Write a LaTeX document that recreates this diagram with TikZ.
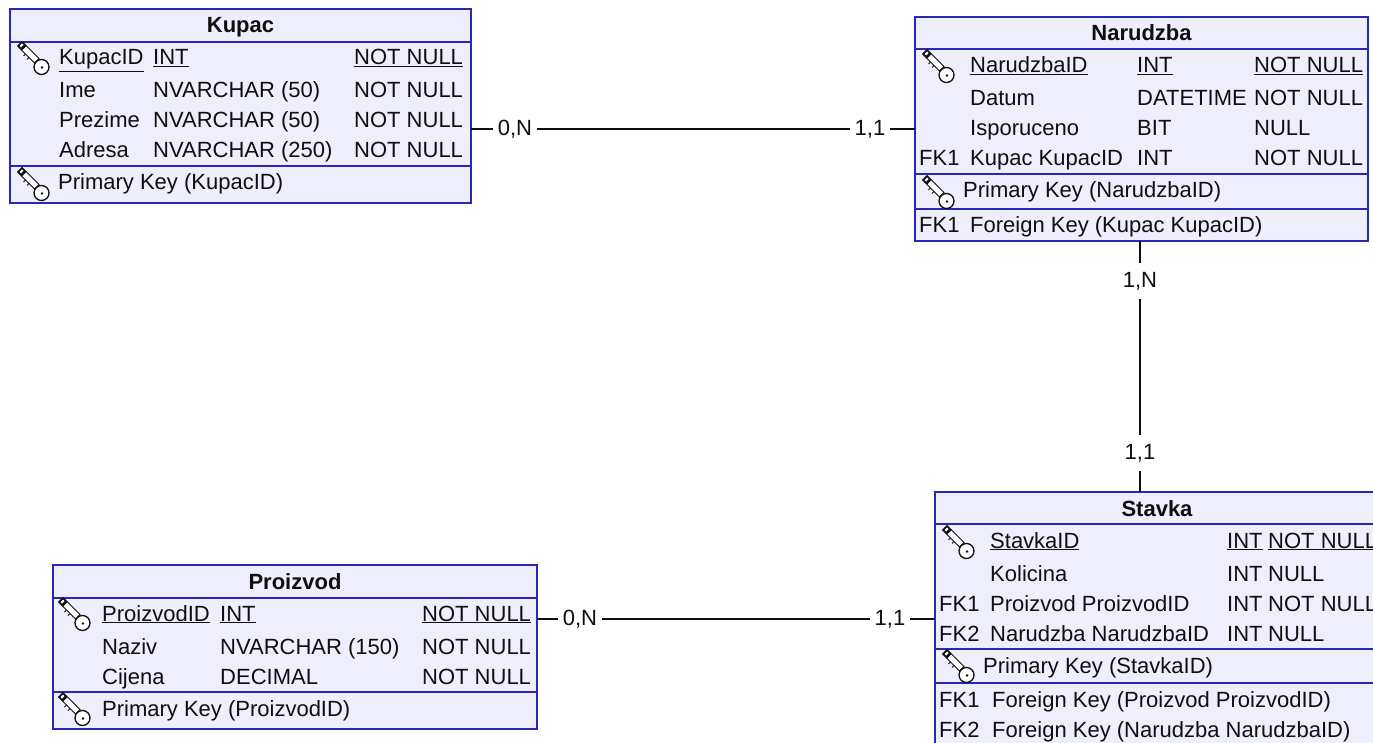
\documentclass[tikz,border=0pt]{standalone}
\usepackage{fontspec}
\setmainfont{Liberation Sans}
\definecolor{tblborder}{RGB}{40,40,180}
\definecolor{tblfill}{RGB}{238,238,252}
\definecolor{ink}{RGB}{15,15,15}
\tikzset{
  tbl/.style={draw=tblborder, line width=1.6pt, fill=tblfill, rectangle, inner sep=0pt, outer sep=0pt, anchor=north west},
  txt/.style={anchor=base west, inner sep=0pt, text=ink, font=\fontsize{22}{26}\selectfont},
  ttl/.style={anchor=base, inner sep=0pt, text=ink, font=\fontsize{22}{26}\selectfont\bfseries},
  rowsep/.style={draw=tblborder, line width=1.6pt},
  conn/.style={draw=ink, line width=1.5pt},
  lblh/.style={fill=white, inner xsep=5pt, inner ysep=3pt, text=ink, font=\fontsize{22}{26}\selectfont},
  lblv/.style={fill=white, inner xsep=3pt, inner ysep=9pt, text=ink, font=\fontsize{22}{26}\selectfont},
  keyicon/.pic={
    \draw[ink, line width=1pt, fill=white] (0.5,5) -- (5,0.5) -- (22,17.5) -- (17.5,22) -- cycle;
    \fill[ink] (0.5,5) -- (5,0.5) -- (9.5,5) -- (5,9.5) -- cycle;
    \fill[white] (2.5,5) -- (5,2.5) -- (6.5,4) -- (4,6.5) -- cycle;
    \draw[ink, line width=1pt] (8.5,13) -- (6.5,15) (12,16.5) -- (10,18.5);
    \draw[ink, line width=1.3pt, fill=white] (24.5,26) circle [radius=7.5pt];
    \fill[ink] (25,26.5) circle [radius=1.4pt];
  }
}
\begin{document}
\begin{tikzpicture}[x=1pt,y=-1pt]
\clip (0,0) rectangle (1373,743);
\fill[white] (0,0) rectangle (1373,743);

% ---------- Kupac ----------
\node[tbl, minimum width=461pt, minimum height=194pt] (kupac) at (10,9) {};
\draw[rowsep] (10,42) -- (471,42);
\draw[rowsep] (10,166) -- (471,166);
\node[ttl] (kupacT) at (240.5,33) {Kupac};
\pic at (17,41) {keyicon};
\node[txt] (k1a) at (59,65) {\underline{KupacID}};
\node[txt] (k1b) at (153,65) {\underline{INT}};
\node[txt] (k1c) at (354,65) {\underline{NOT NULL}};
\node[txt] (k2a) at (59,98) {Ime};
\node[txt] (k2b) at (153,98) {NVARCHAR (50)};
\node[txt] (k2c) at (354,98) {NOT NULL};
\node[txt] (k3a) at (59,128) {Prezime};
\node[txt] (k3b) at (153,128) {NVARCHAR (50)};
\node[txt] (k3c) at (354,128) {NOT NULL};
\node[txt] (k4a) at (59,158) {Adresa};
\node[txt] (k4b) at (153,158) {NVARCHAR (250)};
\node[txt] (k4c) at (354,158) {NOT NULL};
\pic at (17,167) {keyicon};
\node[txt] (k5) at (58,190) {Primary Key (KupacID)};

% ---------- Narudzba ----------
\node[tbl, minimum width=453pt, minimum height=224pt] (narudzba) at (915,17) {};
\draw[rowsep] (915,49) -- (1368,49);
\draw[rowsep] (915,174) -- (1368,174);
\draw[rowsep] (915,209) -- (1368,209);
\node[ttl] (narudzbaT) at (1141.5,41) {Narudzba};
\pic at (922,49) {keyicon};
\node[txt] (n1a) at (970,73) {\underline{NarudzbaID}};
\node[txt] (n1b) at (1137,73) {\underline{INT}};
\node[txt] (n1c) at (1254,73) {\underline{NOT NULL}};
\node[txt] (n2a) at (970,106) {Datum};
\node[txt] (n2b) at (1137,106) {DATETIME};
\node[txt] (n2c) at (1254,106) {NOT NULL};
\node[txt] (n3a) at (970,136) {Isporuceno};
\node[txt] (n3b) at (1137,136) {BIT};
\node[txt] (n3c) at (1254,136) {NULL};
\node[txt] (n4f) at (919,166) {FK1};
\node[txt] (n4a) at (970,166) {Kupac KupacID};
\node[txt] (n4b) at (1137,166) {INT};
\node[txt] (n4c) at (1254,166) {NOT NULL};
\pic at (922,175) {keyicon};
\node[txt] (n5) at (963,198) {Primary Key (NarudzbaID)};
\node[txt] (n6f) at (919,233) {FK1};
\node[txt] (n6a) at (970,233) {Foreign Key (Kupac KupacID)};

% ---------- Stavka ----------
\node[tbl, minimum width=444pt, minimum height=262pt] (stavka) at (935,492) {};
\draw[rowsep] (935,524) -- (1379,524);
\draw[rowsep] (935,649) -- (1379,649);
\draw[rowsep] (935,683) -- (1379,683);
\node[ttl] (stavkaT) at (1157,516) {Stavka};
\pic at (942,525) {keyicon};
\node[txt] (s1a) at (990,548) {\underline{StavkaID}};
\node[txt] (s1b) at (1227,548) {\underline{INT}};
\node[txt] (s1c) at (1268,548) {\underline{NOT NULL}};
\node[txt] (s2a) at (990,581) {Kolicina};
\node[txt] (s2b) at (1227,581) {INT};
\node[txt] (s2c) at (1268,581) {NULL};
\node[txt] (s3f) at (939,611) {FK1};
\node[txt] (s3a) at (990,611) {Proizvod ProizvodID};
\node[txt] (s3b) at (1227,611) {INT};
\node[txt] (s3c) at (1268,611) {NOT NULL};
\node[txt] (s4f) at (939,641) {FK2};
\node[txt] (s4a) at (990,641) {Narudzba NarudzbaID};
\node[txt] (s4b) at (1227,641) {INT};
\node[txt] (s4c) at (1268,641) {NULL};
\pic at (942,649) {keyicon};
\node[txt] (s5) at (983,673) {Primary Key (StavkaID)};
\node[txt] (s6f) at (939,707) {FK1};
\node[txt] (s6a) at (992,707) {Foreign Key (Proizvod ProizvodID)};
\node[txt] (s7f) at (939,737) {FK2};
\node[txt] (s7a) at (992,737) {Foreign Key (Narudzba NarudzbaID)};

% ---------- Proizvod ----------
\node[tbl, minimum width=484pt, minimum height=164pt] (proizvod) at (53,565) {};
\draw[rowsep] (53,598) -- (537,598);
\draw[rowsep] (53,692) -- (537,692);
\node[ttl] (proizvodT) at (295,589) {Proizvod};
\pic at (58,597) {keyicon};
\node[txt] (p1a) at (102,621) {\underline{ProizvodID}};
\node[txt] (p1b) at (220,621) {\underline{INT}};
\node[txt] (p1c) at (422,621) {\underline{NOT NULL}};
\node[txt] (p2a) at (102,654) {Naziv};
\node[txt] (p2b) at (220,654) {NVARCHAR (150)};
\node[txt] (p2c) at (422,654) {NOT NULL};
\node[txt] (p3a) at (102,684) {Cijena};
\node[txt] (p3b) at (220,684) {DECIMAL};
\node[txt] (p3c) at (422,684) {NOT NULL};
\pic at (58,692) {keyicon};
\node[txt] (p5) at (102,716) {Primary Key (ProizvodID)};

% ---------- connectors ----------
\coordinate (c1) at (0,129);
\coordinate (c2) at (1140,0);
\coordinate (c3) at (0,619);
\draw[conn] (kupac.east |- c1) -- (narudzba.west |- c1);
\draw[conn] (narudzba.south -| c2) -- (stavka.north -| c2);
\draw[conn] (proizvod.east |- c3) -- (stavka.west |- c3);
\node[lblh] (l1) at (515,129) {0,N};
\node[lblh] (l2) at (870,129) {1,1};
\node[lblv] (l3) at (1140,281) {1,N};
\node[lblv] (l4) at (1140,453) {1,1};
\node[lblh] (l5) at (580,619) {0,N};
\node[lblh] (l6) at (890,619) {1,1};
\end{tikzpicture}
\end{document}
